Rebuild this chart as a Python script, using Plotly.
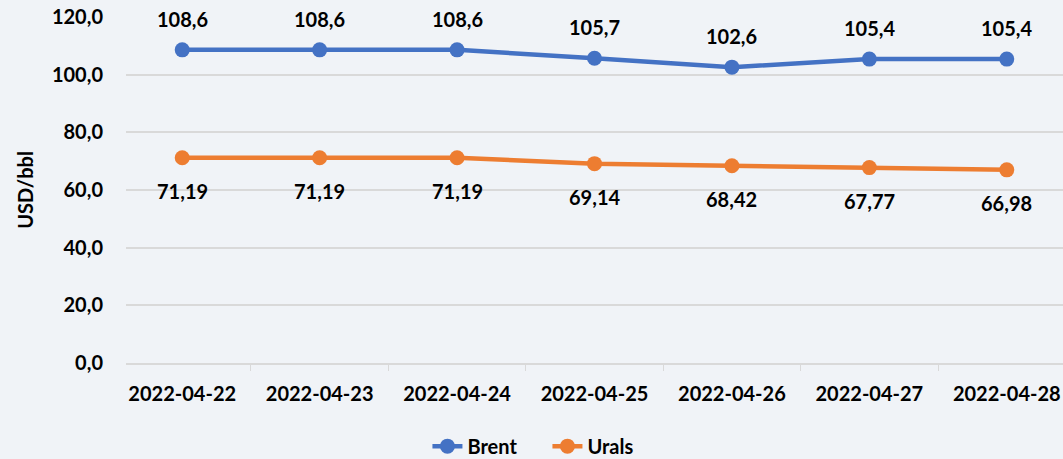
import plotly.graph_objects as go

dates = ["2022-04-22", "2022-04-23", "2022-04-24", "2022-04-25", "2022-04-26", "2022-04-27", "2022-04-28"]
brent = [108.6, 108.6, 108.6, 105.7, 102.6, 105.4, 105.4]
urals = [71.19, 71.19, 71.19, 69.14, 68.42, 67.77, 66.98]
brent_labels = ["108,6", "108,6", "108,6", "105,7", "102,6", "105,4", "105,4"]
urals_labels = ["71,19", "71,19", "71,19", "69,14", "68,42", "67,77", "66,98"]
y_ticks = [0, 20, 40, 60, 80, 100, 120]
y_tick_labels = ["0,0", "20,0", "40,0", "60,0", "80,0", "100,0", "120,0"]

FONT = "Lato, sans-serif"
FS = 20
BOLD = dict(family=FONT, size=FS, color="#000000", weight="bold")

fig = go.Figure()
fig.add_trace(go.Scatter(
    x=dates, y=brent, name="Brent", mode="lines+markers",
    line=dict(color="#4472C4", width=4.5), marker=dict(size=15, color="#4472C4"),
))
fig.add_trace(go.Scatter(
    x=dates, y=urals, name="Urals", mode="lines+markers",
    line=dict(color="#ED7D31", width=4.5), marker=dict(size=15, color="#ED7D31"),
))

for d, v, t in zip(dates, brent, brent_labels):
    fig.add_annotation(x=d, y=v, text=t, showarrow=False, yshift=31, font=BOLD)
for d, v, t in zip(dates, urals, urals_labels):
    fig.add_annotation(x=d, y=v, text=t, showarrow=False, yshift=-33, font=BOLD)

fig.update_layout(
    width=1063, height=459,
    paper_bgcolor="#F0F3F7", plot_bgcolor="#F0F3F7",
    margin=dict(l=126, r=0, t=17, b=96),
    font=BOLD,
    showlegend=True,
    legend=dict(orientation="h", x=0.515, xref="container", xanchor="center",
                y=0.028, yref="container", yanchor="middle",
                font=BOLD, entrywidth=75, entrywidthmode="pixels",
                bgcolor="rgba(0,0,0,0)"),
    xaxis=dict(type="category", tickson="boundaries", ticks="outside", ticklen=6,
               tickcolor="#D9D9D9", showline=True, linecolor="#D9D9D9", linewidth=2,
               showgrid=False, tickfont=BOLD, automargin=False, ticklabelstandoff=12),
    yaxis=dict(range=[0, 120], tickvals=y_ticks, ticktext=y_tick_labels,
               showgrid=True, gridcolor="#D9D9D9", gridwidth=2, zeroline=False,
               ticks="", ticklabelstandoff=22, automargin=False,
               title=dict(text="USD/bbl", font=BOLD, standoff=12),
               tickfont=BOLD),
)

fig.write_html("out.html", config={"displayModeBar": False},
               post_script="document.body.style.margin='0';")
